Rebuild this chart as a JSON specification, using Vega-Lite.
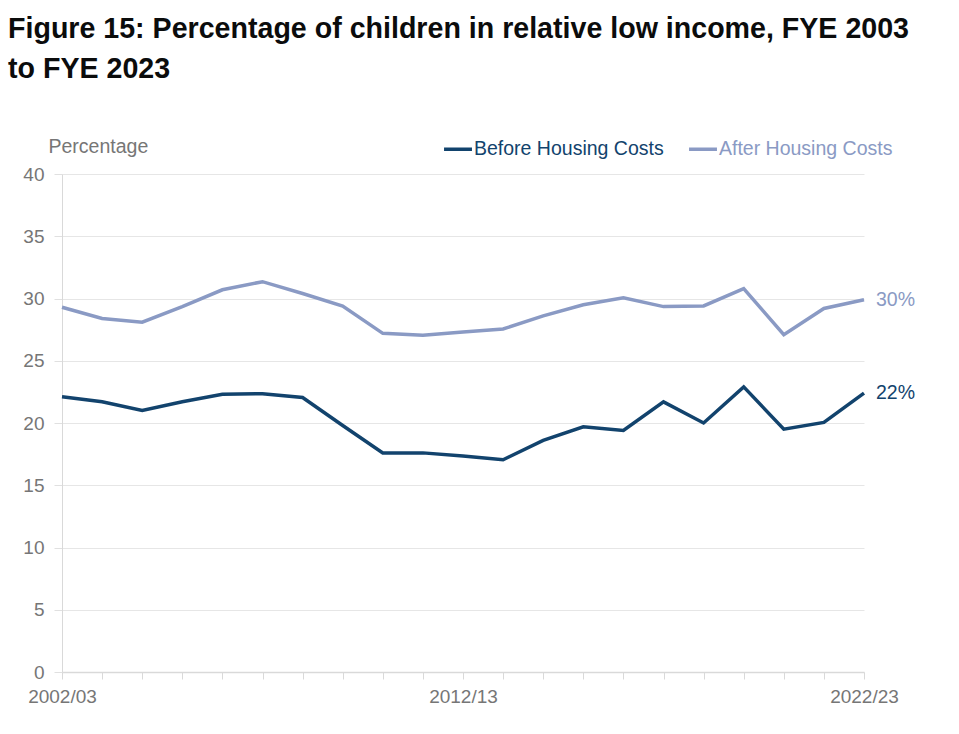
{
  "$schema": "https://vega.github.io/schema/vega-lite/v6.json",
  "width": 802,
  "height": 498,
  "autosize": "none",
  "padding": {"left": 62, "top": 174, "right": 95, "bottom": 62},
  "background": "white",
  "title": {
    "text": ["Figure 15: Percentage of children in relative low income, FYE 2003", "to FYE 2023"],
    "anchor": "start",
    "frame": "group",
    "dx": -54,
    "fontSize": 28.6,
    "fontWeight": "bold",
    "font": "Liberation Sans",
    "color": "#0b0c0c",
    "lineHeight": 40,
    "baseline": "top",
    "offset": 49,
    "limit": 0
  },
  "config": {
    "view": {"stroke": null},
    "font": "Liberation Sans"
  },
  "data": {
    "values": [
      {"year": "2002/03", "series": "Before Housing Costs", "value": 22.1},
      {"year": "2003/04", "series": "Before Housing Costs", "value": 21.7},
      {"year": "2004/05", "series": "Before Housing Costs", "value": 21.0},
      {"year": "2005/06", "series": "Before Housing Costs", "value": 21.7},
      {"year": "2006/07", "series": "Before Housing Costs", "value": 22.3},
      {"year": "2007/08", "series": "Before Housing Costs", "value": 22.35},
      {"year": "2008/09", "series": "Before Housing Costs", "value": 22.05},
      {"year": "2009/10", "series": "Before Housing Costs", "value": 19.8},
      {"year": "2010/11", "series": "Before Housing Costs", "value": 17.6},
      {"year": "2011/12", "series": "Before Housing Costs", "value": 17.6},
      {"year": "2012/13", "series": "Before Housing Costs", "value": 17.35},
      {"year": "2013/14", "series": "Before Housing Costs", "value": 17.05},
      {"year": "2014/15", "series": "Before Housing Costs", "value": 18.6},
      {"year": "2015/16", "series": "Before Housing Costs", "value": 19.7},
      {"year": "2016/17", "series": "Before Housing Costs", "value": 19.4},
      {"year": "2017/18", "series": "Before Housing Costs", "value": 21.7},
      {"year": "2018/19", "series": "Before Housing Costs", "value": 20.0},
      {"year": "2019/20", "series": "Before Housing Costs", "value": 22.9},
      {"year": "2020/21", "series": "Before Housing Costs", "value": 19.5},
      {"year": "2021/22", "series": "Before Housing Costs", "value": 20.05},
      {"year": "2022/23", "series": "Before Housing Costs", "value": 22.4},
      {"year": "2002/03", "series": "After Housing Costs", "value": 29.3},
      {"year": "2003/04", "series": "After Housing Costs", "value": 28.4},
      {"year": "2004/05", "series": "After Housing Costs", "value": 28.1},
      {"year": "2005/06", "series": "After Housing Costs", "value": 29.35},
      {"year": "2006/07", "series": "After Housing Costs", "value": 30.7},
      {"year": "2007/08", "series": "After Housing Costs", "value": 31.35},
      {"year": "2008/09", "series": "After Housing Costs", "value": 30.4},
      {"year": "2009/10", "series": "After Housing Costs", "value": 29.4},
      {"year": "2010/11", "series": "After Housing Costs", "value": 27.2},
      {"year": "2011/12", "series": "After Housing Costs", "value": 27.05},
      {"year": "2012/13", "series": "After Housing Costs", "value": 27.3},
      {"year": "2013/14", "series": "After Housing Costs", "value": 27.55},
      {"year": "2014/15", "series": "After Housing Costs", "value": 28.6},
      {"year": "2015/16", "series": "After Housing Costs", "value": 29.5},
      {"year": "2016/17", "series": "After Housing Costs", "value": 30.05},
      {"year": "2017/18", "series": "After Housing Costs", "value": 29.35},
      {"year": "2018/19", "series": "After Housing Costs", "value": 29.4},
      {"year": "2019/20", "series": "After Housing Costs", "value": 30.8},
      {"year": "2020/21", "series": "After Housing Costs", "value": 27.1},
      {"year": "2021/22", "series": "After Housing Costs", "value": 29.2},
      {"year": "2022/23", "series": "After Housing Costs", "value": 29.9}
    ]
  },
  "encoding": {
    "x": {
      "field": "year",
      "type": "ordinal",
      "scale": {"type": "point", "padding": 0},
      "axis": {
        "title": null,
        "labelAngle": 0,
        "labelExpr": "indexof(['2002/03','2012/13','2022/23'], datum.value) >= 0 ? datum.value : ''",
        "labelFontSize": 19,
        "labelColor": "#767676",
        "labelPadding": 8,
        "labelOverlap": false,
        "labelFlush": false,
        "domainColor": "#d9d9d9",
        "domainWidth": 1.5,
        "tickColor": "#d9d9d9",
        "tickSize": 7,
        "grid": false
      }
    },
    "y": {
      "field": "value",
      "type": "quantitative",
      "scale": {"domain": [0, 40]},
      "axis": {
        "title": "Percentage",
        "titleAngle": 0,
        "titleAlign": "left",
        "titleBaseline": "alphabetic",
        "titleX": -14,
        "titleY": -22,
        "titleFontSize": 19.5,
        "titleFontWeight": "normal",
        "titleColor": "#767676",
        "values": [0, 5, 10, 15, 20, 25, 30, 35, 40],
        "labelFontSize": 19,
        "labelColor": "#767676",
        "labelPadding": 10,
        "tickColor": "#e0e0e0",
        "tickSize": 8,
        "domainColor": "#d9d9d9",
        "gridColor": "#e6e6e6",
        "gridWidth": 1
      }
    },
    "color": {
      "field": "series",
      "type": "nominal",
      "scale": {
        "domain": ["Before Housing Costs", "After Housing Costs"],
        "range": ["#12436D", "#8A9AC4"]
      },
      "legend": {
        "title": null,
        "orient": "none",
        "legendX": 380,
        "legendY": -41,
        "direction": "horizontal",
        "symbolType": "stroke",
        "symbolStrokeWidth": 3.5,
        "symbolSize": 780,
        "labelFontSize": 19.5,
        "labelLimit": 0,
        "labelOffset": 0,
        "columnPadding": 18,
        "encode": {
          "labels": {"update": {"fill": {"scale": "color", "field": "value"}}}
        }
      }
    }
  },
  "layer": [
    {
      "mark": {"type": "line", "strokeWidth": 3.5}
    },
    {
      "transform": [
        {"filter": "datum.year == '2022/23'"},
        {"calculate": "format(datum.value, '.0f') + '%'", "as": "label"}
      ],
      "mark": {"type": "text", "align": "left", "dx": 12, "fontSize": 19.5, "baseline": "middle"},
      "encoding": {
        "text": {"field": "label"}
      }
    }
  ]
}
